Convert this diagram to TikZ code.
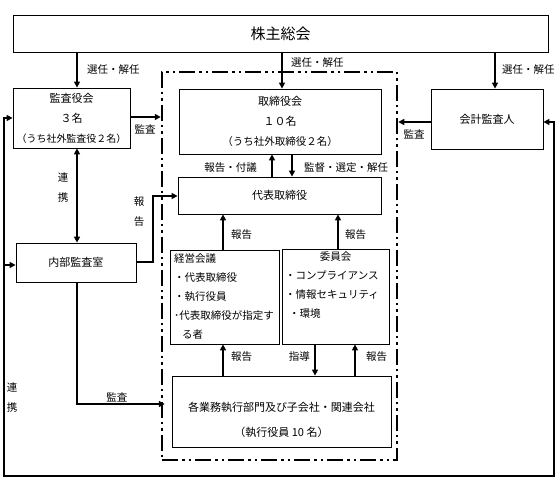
\documentclass[tikz,border=0pt]{standalone}
\usepackage{fontspec}
\setmainfont{Noto Sans CJK JP}
\usetikzlibrary{arrows.meta,calc}
\begin{document}
\begin{tikzpicture}[x=1pt,y=-1pt,
  box/.style={draw, line width=0.8pt, inner sep=0pt, align=center, font=\fontsize{11}{20}\selectfont},
  txt/.style={inner sep=0pt, align=center, font=\fontsize{11}{25}\selectfont},
  arr/.style={line width=2pt, -{Triangle[length=6pt,width=6pt]}},
  darr/.style={line width=2pt, {Triangle[length=6pt,width=6pt]}-{Triangle[length=6pt,width=6pt]}},
  lbl/.style={inner sep=0pt, align=center, font=\fontsize{10.5}{20}\selectfont},
  frame/.style={draw, line width=2.5pt, dash pattern=on 16pt off 4pt on 2.5pt off 4pt on 2.5pt off 4pt}]
\useasboundingbox (0,0) rectangle (558,486);

% boxes
\node[box, minimum width=535pt, minimum height=37pt, font=\fontsize{15}{17}\selectfont] (sh) at (280.5,33.5) {株主総会};
\node[frame, minimum width=235pt, minimum height=388pt] (fr) at (279.5,266) {};
\node[box, minimum width=117pt, minimum height=60pt] (kansa) at (71.5,118) {監査役会\\３名\\{\fontsize{10}{20}\selectfont（うち社外監査役２名）}};
\node[box, minimum width=202pt, minimum height=65pt] (tori) at (280,121.5) {取締役会\\１０名\\{\fontsize{10.5}{20}\selectfont（うち社外取締役２名）}};
\node[box, minimum width=112pt, minimum height=60pt] (kaikei) at (487,119) {会計監査人};
\node[box, minimum width=203pt, minimum height=37pt] (daihyo) at (279.5,195.5) {代表取締役};
\node[box, minimum width=120pt, minimum height=39pt] (naibu) at (76,262.5) {内部監査室};
\node[box, minimum width=109pt, minimum height=94pt, align=left, text width=101pt, inner xsep=4pt, font=\fontsize{10.5}{19}\selectfont] (keiei) at (224.5,297)
  {経営会議\\・代表取締役\\・執行役員\\･代表取締役が指定す\\\hspace*{8pt}る者};
\node[box, minimum width=107pt, minimum height=95pt, align=left, text width=101pt, inner xsep=3pt, font=\fontsize{10.5}{19}\selectfont] (iinkai) at (335.5,296.5)
  {\makebox[101pt]{委員会}\\・コンプライアンス\\・情報セキュリティ\\\hspace*{4pt}・環境\\\strut};
\node[box, minimum width=219pt, minimum height=71pt] (gyomu) at (281.5,411.5) {};
\node[txt] (gyomuT) at (281.5,419.5) {各業務執行部門及び子会社・関連会社\\（執行役員 10 名）};

% helper coordinates
\coordinate (xA) at (77,0);
\coordinate (xB) at (282,0);
\coordinate (xC) at (495,0);
\coordinate (yK) at (0,117);
\coordinate (yKK) at (0,122);
\coordinate (yN) at (0,262);
\coordinate (xN) at (153,0);
\coordinate (yD) at (0,196);
\coordinate (x272) at (272,0);
\coordinate (x292) at (292,0);
\coordinate (x223) at (223,0);
\coordinate (x338) at (338,0);
\coordinate (x315) at (315,0);
\coordinate (x355) at (355,0);
\coordinate (y404) at (0,404);
\coordinate (xR) at (554,0);
\coordinate (xL) at (4,0);
\coordinate (yB) at (0,476);
\coordinate (yT) at (0,118);
\coordinate (yNL) at (0,265);

% connectors
\draw[arr] (sh.south -| xA) -- (kansa.north -| xA);
\node[lbl, anchor=west] (l1) at (87,70) {選任・解任};
\draw[arr] (sh.south -| xB) -- (tori.north -| xB);
\node[lbl, anchor=west] (l2) at (291,63) {選任・解任};
\draw[arr] (sh.south -| xC) -- (kaikei.north -| xC);
\node[lbl, anchor=west] (l3) at (502,70) {選任・解任};

\draw[arr] (kansa.east |- yK) -- (fr.west |- yK);
\node[lbl] (l4) at (145,129) {監査};
\draw[arr] (kaikei.west |- yKK) -- (fr.east |- yKK);
\node[lbl] (l5) at (414,134) {監査};

\draw[darr] (kansa.south -| xA) -- (naibu.north -| xA);
\node[lbl] (l6) at (63,188) {連\\携};

\draw[arr] (naibu.east |- yN) -| (xN |- yD) -- (daihyo.west |- yD);
\node[lbl] (l7) at (139,212) {報\\告};

\draw[arr] (daihyo.north -| x272) -- (tori.south -| x272);
\node[lbl, anchor=east] (l8) at (257,168) {報告・付議};
\draw[arr] (tori.south -| x292) -- (daihyo.north -| x292);
\node[lbl, anchor=west] (l9) at (304,168) {監督・選定・解任};

\draw[arr] (keiei.north -| x223) -- (daihyo.south -| x223);
\node[lbl, anchor=west] (l10) at (231,235) {報告};
\draw[arr] (iinkai.north -| x338) -- (daihyo.south -| x338);
\node[lbl, anchor=west] (l11) at (345,235) {報告};

\draw[arr] (gyomu.north -| x223) -- (keiei.south -| x223);
\node[lbl, anchor=west] (l12) at (231,357) {報告};
\draw[arr] (iinkai.south -| x315) -- (gyomu.north -| x315);
\node[lbl, anchor=east] (l13) at (310,357) {指導};
\draw[arr] (gyomu.north -| x355) -- (iinkai.south -| x355);
\node[lbl, anchor=west] (l14) at (366,357) {報告};

\draw[arr] (naibu.south -| xA) |- ($(fr.west |- y404)+(4,0)$);
\node[lbl] (l15) at (117,397) {監査};

\draw[darr] (kaikei.east |- yKK) -- (xR |- yKK) -- (xR |- yB) -- (xL |- yB) -- (xL |- yT) -- (kansa.west |- yT);
\draw[arr] (xL |- yNL) -- (naibu.west |- yNL);
\node[lbl] (l16) at (12,398) {連\\携};
\end{tikzpicture}
\end{document}
